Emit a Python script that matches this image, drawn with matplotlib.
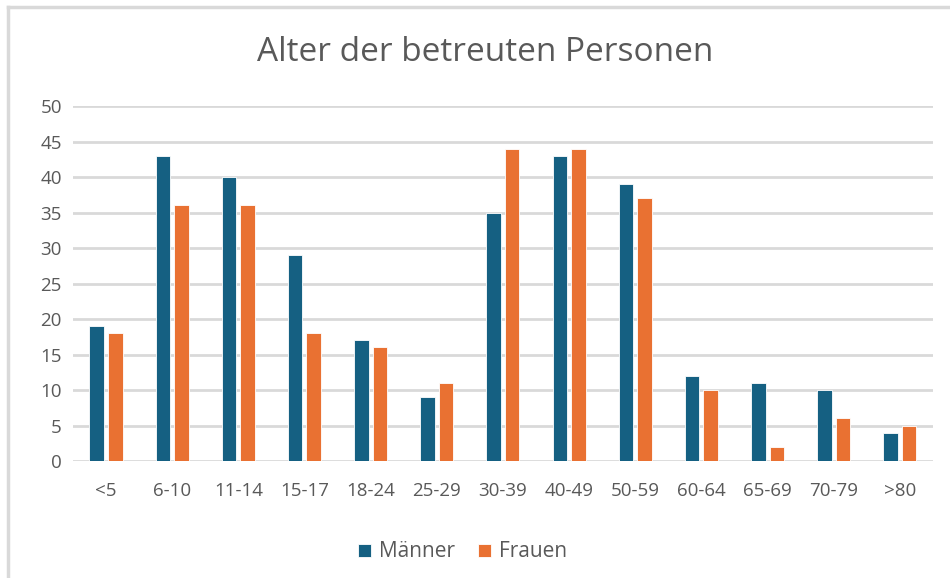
import numpy as np
import matplotlib.pyplot as plt
from matplotlib.lines import Line2D

# Daten
altersgruppen = ['<5', '6-10', '11-14', '15-17', '18-24', '25-29', '30-39',
                 '40-49', '50-59', '60-64', '65-69', '70-79', '>80']
maenner = [19, 43, 40, 29, 17, 9, 35, 43, 39, 12, 11, 10, 4]
frauen = [18, 36, 36, 18, 16, 11, 44, 44, 37, 10, 2, 6, 5]

plt.rcParams['font.family'] = ['Open Sans', 'DejaVu Sans']

blau = '#156082'
orange = '#E97132'
grau_text = '#595959'

fig = plt.figure(figsize=(9.5, 5.78), dpi=100)
ax = fig.add_axes([0.0768, 0.2024, 0.9052, 0.6142])

x = np.arange(len(altersgruppen))
breite = 0.22
ax.bar(x - 0.14, maenner, breite, color=blau, edgecolor='white', linewidth=0.6,
       label='Männer', zorder=3)
ax.bar(x + 0.14, frauen, breite, color=orange, edgecolor='white', linewidth=0.6,
       label='Frauen', zorder=3)

ax.set_xlim(-0.5, len(altersgruppen) - 0.5)
ax.set_ylim(0, 50)
ax.set_yticks(range(0, 51, 5))
ax.set_xticks(x)
ax.set_xticklabels(altersgruppen)
ax.grid(axis='y', color='#D9D9D9', linewidth=2, zorder=0)
ax.tick_params(length=0, labelsize=13.5, colors=grau_text)
ax.tick_params(axis='x', pad=15)
ax.tick_params(axis='y', pad=8)
for s in ax.spines.values():
    s.set_visible(False)

fig.text(0.511, 0.91, 'Alter der betreuten Personen', ha='center', va='center',
         fontsize=24, color=grau_text)

fig.legend(loc='center', bbox_to_anchor=(0.487, 0.045), ncol=2, frameon=False,
           fontsize=15, labelcolor=grau_text, handlelength=0.6, handleheight=0.6,
           handletextpad=0.4, columnspacing=1.1)

# Rahmen links und oben
fig.add_artist(Line2D([0.008, 0.008], [0, 0.988], color='#D9D9D9', linewidth=2.5))
fig.add_artist(Line2D([0.008, 1], [0.988, 0.988], color='#D9D9D9', linewidth=2.5))

fig.savefig('out.png', dpi=100)
